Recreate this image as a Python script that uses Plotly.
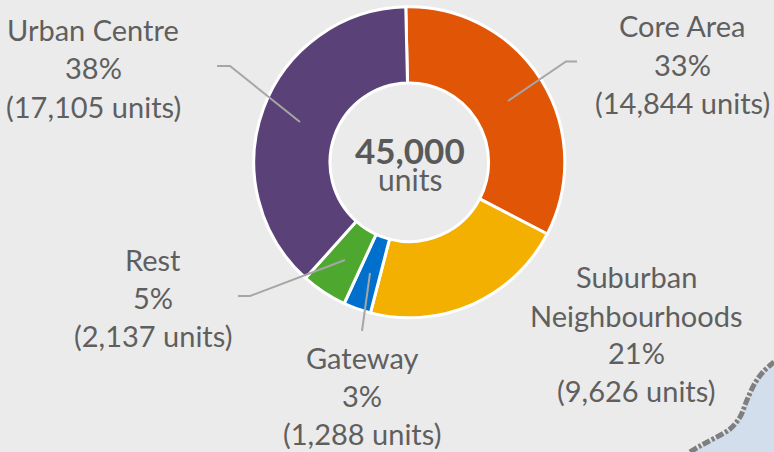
import plotly.graph_objects as go

W, H = 774, 452
FONT = "Lato"
BG = "#EBEBEB"
TEXT = "#5F5F5F"

categories = ["Core Area", "Suburban Neighbourhoods", "Gateway", "Rest", "Urban Centre"]
units = [14844, 9626, 1288, 2137, 17105]
colors = ["#E15606", "#F4B000", "#0070CC", "#4EA72E", "#5A4279"]
total_label = "45,000"
total_unit = "units"

label_lines = [
    ("Urban Centre", 93, 29), ("38%", 93, 67), ("(17,105 units)", 93, 106),
    ("Core Area", 682, 25), ("33%", 682, 64), ("(14,844 units)", 682, 102),
    ("Suburban", 636, 276), ("Neighbourhoods", 636, 315), ("21%", 636, 352), ("(9,626 units)", 636, 390),
    ("Rest", 153, 259), ("5%", 153, 297), ("(2,137 units)", 153, 335),
    ("Gateway", 362, 357), ("3%", 362, 395), ("(1,288 units)", 362, 433),
]
leaders = [
    [(217, 66), (230, 66), (300, 122)],
    [(577, 61.5), (566, 61.5), (508, 101)],
    [(238, 296), (250, 296), (345, 260)],
    [(362, 331), (370, 273)],
]
region_x = [690, 700, 713, 730, 740, 747, 755, 763, 774]
region_y = [452, 446, 439, 429, 417, 400, 383, 372, 362]

cx, cy, R = 409.3, 162.3, 155.5

fig = go.Figure()
fig.add_trace(go.Scatter(
    x=region_x + [774, 690], y=region_y + [452, 452], mode="lines",
    line=dict(width=0), fill="toself", fillcolor="#D3DEEC", hoverinfo="skip", showlegend=False))
fig.add_trace(go.Scatter(
    x=region_x, y=region_y, mode="lines",
    line=dict(color="#7F7F7F", width=5, dash="8px,2px,3px,2px", shape="spline"),
    hoverinfo="skip", showlegend=False))
fig.add_trace(go.Pie(
    labels=categories, values=units, hole=0.51, sort=False, direction="clockwise",
    rotation=-1.3, textinfo="none", showlegend=False,
    marker=dict(colors=colors, line=dict(color="#FFFFFF", width=3)),
    domain=dict(x=[(cx - R) / W, (cx + R) / W], y=[(H - cy - R) / H, (H - cy + R) / H]),
))

annotations = [
    dict(x=x, y=y, text=t, showarrow=False, xref="x", yref="y", xanchor="center", yanchor="middle",
         font=dict(family=FONT, size=29, color=TEXT))
    for t, x, y in label_lines
]
annotations.append(dict(x=410, y=150, text=f"<b>{total_label}</b>", showarrow=False, xref="x", yref="y",
                        xanchor="center", yanchor="middle", font=dict(family=FONT, size=35, color="#595959")))
annotations.append(dict(x=410, y=179, text=total_unit, showarrow=False, xref="x", yref="y",
                        xanchor="center", yanchor="middle", font=dict(family=FONT, size=30, color=TEXT)))

shapes = []
for pts in leaders:
    path = "M " + " L ".join(f"{x},{y}" for x, y in pts)
    shapes.append(dict(type="path", path=path, xref="x", yref="y", layer="above",
                       line=dict(color="#A6A6A6", width=2)))

fig.update_layout(
    width=W, height=H, autosize=False,
    margin=dict(l=0, r=0, t=0, b=0),
    paper_bgcolor=BG, plot_bgcolor=BG,
    xaxis=dict(range=[0, W], visible=False, domain=[0, 1], fixedrange=True),
    yaxis=dict(range=[H, 0], visible=False, domain=[0, 1], fixedrange=True),
    annotations=annotations, shapes=shapes,
)
fig.write_html("out.html", config={"displayModeBar": False},
               post_script="document.body.style.margin='0';document.documentElement.style.overflow='hidden';")
